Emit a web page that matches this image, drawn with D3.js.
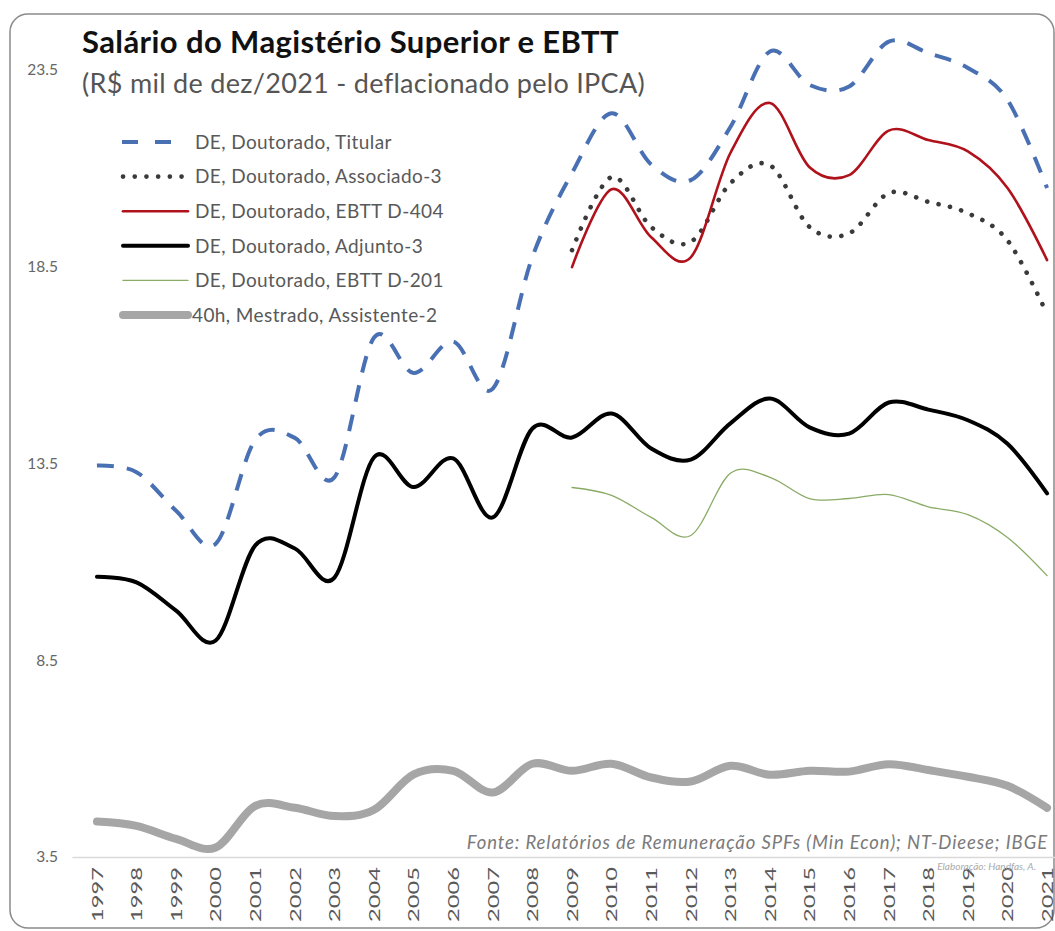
<!DOCTYPE html>
<html>
<head>
<meta charset="utf-8">
<script src="https://cdn.jsdelivr.net/npm/d3@7"></script>
<style>
  body { margin: 0; background: #fff; }
  text { font-family: Lato, "Open Sans", sans-serif; }
</style>
</head>
<body>
<svg id="chart" width="1055" height="931"></svg>
<script>
// Chart values (R$ mil, Dec/2021)
var years = [1997, 1998, 1999, 2000, 2001, 2002, 2003, 2004, 2005, 2006, 2007, 2008,
             2009, 2010, 2011, 2012, 2013, 2014, 2015, 2016, 2017, 2018, 2019, 2020, 2021];
var yearsEbtt = [2009, 2010, 2011, 2012, 2013, 2014, 2015, 2016, 2017, 2018, 2019, 2020, 2021];
var yTicks = [3.5, 8.5, 13.5, 18.5, 23.5];

var titular    = [13.45, 13.28, 12.3, 11.46, 14.1, 14.15, 13.15, 16.7, 15.8, 16.6, 15.4, 18.75,
                  20.88, 22.4, 21.1, 20.7, 22.05, 23.97, 23.12, 23.08, 24.22, 23.93, 23.55, 22.74, 20.5];
var associado  = [18.92, 20.78, 19.51, 19.13, 20.62, 21.08, 19.51, 19.35, 20.37, 20.15, 19.86, 19.17, 17.3];
var ebtt404    = [18.49, 20.47, 19.25, 18.74, 21.39, 22.66, 21.03, 20.83, 21.96, 21.72, 21.43, 20.5, 18.67];
var adjunto    = [10.62, 10.48, 9.76, 9.0, 11.42, 11.34, 10.6, 13.66, 12.9, 13.63, 12.13, 14.39,
                  14.16, 14.77, 13.88, 13.6, 14.52, 15.15, 14.42, 14.26, 15.05, 14.87, 14.6, 14.0, 12.74];
var ebtt201    = [12.89, 12.69, 12.13, 11.67, 13.25, 13.15, 12.61, 12.61, 12.71, 12.4, 12.2, 11.62, 10.65];
var assistente = [4.4, 4.29, 3.96, 3.74, 4.8, 4.75, 4.54, 4.7, 5.6, 5.69, 5.14, 5.87,
                  5.69, 5.87, 5.52, 5.42, 5.82, 5.59, 5.69, 5.67, 5.86, 5.71, 5.54, 5.31, 4.75];

var seriesNames = ['DE, Doutorado, Titular', 'DE, Doutorado, Associado-3', 'DE, Doutorado, EBTT D-404',
                   'DE, Doutorado, Adjunto-3', 'DE, Doutorado, EBTT D-201', '40h, Mestrado, Assistente-2'];

// Line styles, one per series (same order as names)
var styles = [
  {color: '#4a70b4', width: 4, dash: '17,13', cap: 'butt'},
  {color: '#3a3a3a', width: 4.6, dash: '0.1,11.6', cap: 'round'},
  {color: '#b0121b', width: 2.6, dash: null, cap: 'round'},
  {color: '#000000', width: 4, dash: null, cap: 'round'},
  {color: '#8aab66', width: 1.3, dash: null, cap: 'round'},
  {color: '#a6a6a6', width: 8, dash: null, cap: 'round'}
];

var series = [
  {x: years, y: titular},
  {x: yearsEbtt, y: associado},
  {x: yearsEbtt, y: ebtt404},
  {x: years, y: adjunto},
  {x: yearsEbtt, y: ebtt201},
  {x: years, y: assistente}
];

var svg = d3.select('#chart');

// Rounded frame
svg.append('rect')
  .attr('x', 10).attr('y', 14)
  .attr('width', 1044).attr('height', 914)
  .attr('rx', 18).attr('ry', 18)
  .attr('fill', '#fff')
  .attr('stroke', '#8a8a8a')
  .attr('stroke-width', 1.5);

// Scales
var xScale = d3.scaleLinear().domain([1996.37, 2021.2]).range([72, 1055]);
var yScale = d3.scaleLinear().domain([3.5, 23.5]).range([857, 70]);

// X axis with rotated year labels
var xAxis = d3.axisBottom(xScale)
  .tickValues(years)
  .tickFormat(d3.format('d'))
  .tickSize(0);

var gx = svg.append('g')
  .attr('transform', 'translate(0,857)')
  .call(xAxis);
gx.select('.domain').attr('stroke', '#d9d9d9').attr('stroke-width', 1.5);
gx.selectAll('text')
  .attr('transform', 'rotate(-90)')
  .attr('x', -10)
  .attr('y', 0)
  .attr('dy', '0.33em')
  .attr('text-anchor', 'end')
  .attr('fill', '#595959')
  .attr('font-size', 16)
  .attr('textLength', 55)
  .attr('lengthAdjust', 'spacingAndGlyphs')
  .style('font-family', 'Lato, sans-serif');

// Y axis (labels only)
var yAxis = d3.axisLeft(yScale)
  .tickValues(yTicks)
  .tickFormat(d3.format('.1f'))
  .tickSize(0);

var gy = svg.append('g')
  .attr('transform', 'translate(58,0)')
  .call(yAxis);
gy.select('.domain').remove();
gy.selectAll('text')
  .attr('x', 0)
  .attr('fill', '#666')
  .attr('font-size', 15.5)
  .style('font-family', 'Lato, sans-serif');

// Lines
var line = d3.line()
  .x(function(d) { return xScale(d[0]); })
  .y(function(d) { return yScale(d[1]); })
  .curve(d3.curveCardinal.tension(0));

// draw order: gray bottom, then green, black, dotted, red, blue
var order = [5, 4, 3, 1, 2, 0];
order.forEach(function(i) {
  var pts = series[i].x.map(function(yr, k) { return [yr, series[i].y[k]]; });
  var st = styles[i];
  svg.append('path')
    .attr('d', line(pts))
    .attr('fill', 'none')
    .attr('stroke', st.color)
    .attr('stroke-width', st.width)
    .attr('stroke-linecap', st.cap)
    .attr('stroke-linejoin', 'round')
    .attr('stroke-dasharray', st.dash);
});

// Title and subtitle
svg.append('text')
  .attr('x', 82).attr('y', 53)
  .attr('font-size', 31)
  .attr('font-weight', 'bold')
  .attr('letter-spacing', 0.4)
  .attr('fill', '#111')
  .text('Salário do Magistério Superior e EBTT');

svg.append('text')
  .attr('x', 82).attr('y', 93)
  .attr('font-size', 27)
  .attr('letter-spacing', 0.3)
  .attr('fill', '#555')
  .text('(R$ mil de dez/2021 - deflacionado pelo IPCA)');

// Legend
var legend = svg.append('g').attr('class', 'legend');
seriesNames.forEach(function(name, i) {
  var ly = 142 + i * 34.6;
  var st = styles[i];
  legend.append('line')
    .attr('x1', i === 0 ? 122 : 123)
    .attr('x2', i === 0 ? 172 : 188)
    .attr('y1', ly).attr('y2', ly)
    .attr('stroke', st.color)
    .attr('stroke-width', st.width)
    .attr('stroke-linecap', st.cap)
    .attr('stroke-dasharray', i === 0 ? '16,17' : st.dash);
  legend.append('text')
    .attr('x', i === 5 ? 192 : 195)
    .attr('y', ly)
    .attr('dy', '0.36em')
    .attr('font-size', 19)
    .attr('letter-spacing', 0.4)
    .attr('fill', '#595959')
    .text(name);
});

// Source notes
svg.append('text')
  .attr('x', 1048).attr('y', 849)
  .attr('text-anchor', 'end')
  .attr('font-size', 18.5)
  .attr('letter-spacing', 0.9)
  .attr('font-style', 'italic')
  .attr('fill', '#7a7a7a')
  .text('Fonte: Relatórios de Remuneração SPFs (Min Econ); NT-Dieese; IBGE');

svg.append('text')
  .attr('x', 1036).attr('y', 870)
  .attr('text-anchor', 'end')
  .attr('font-size', 10)
  .attr('font-style', 'italic')
  .attr('fill', '#aaa')
  .text('Elaboração: Handfas, A.');
</script>
</body>
</html>
